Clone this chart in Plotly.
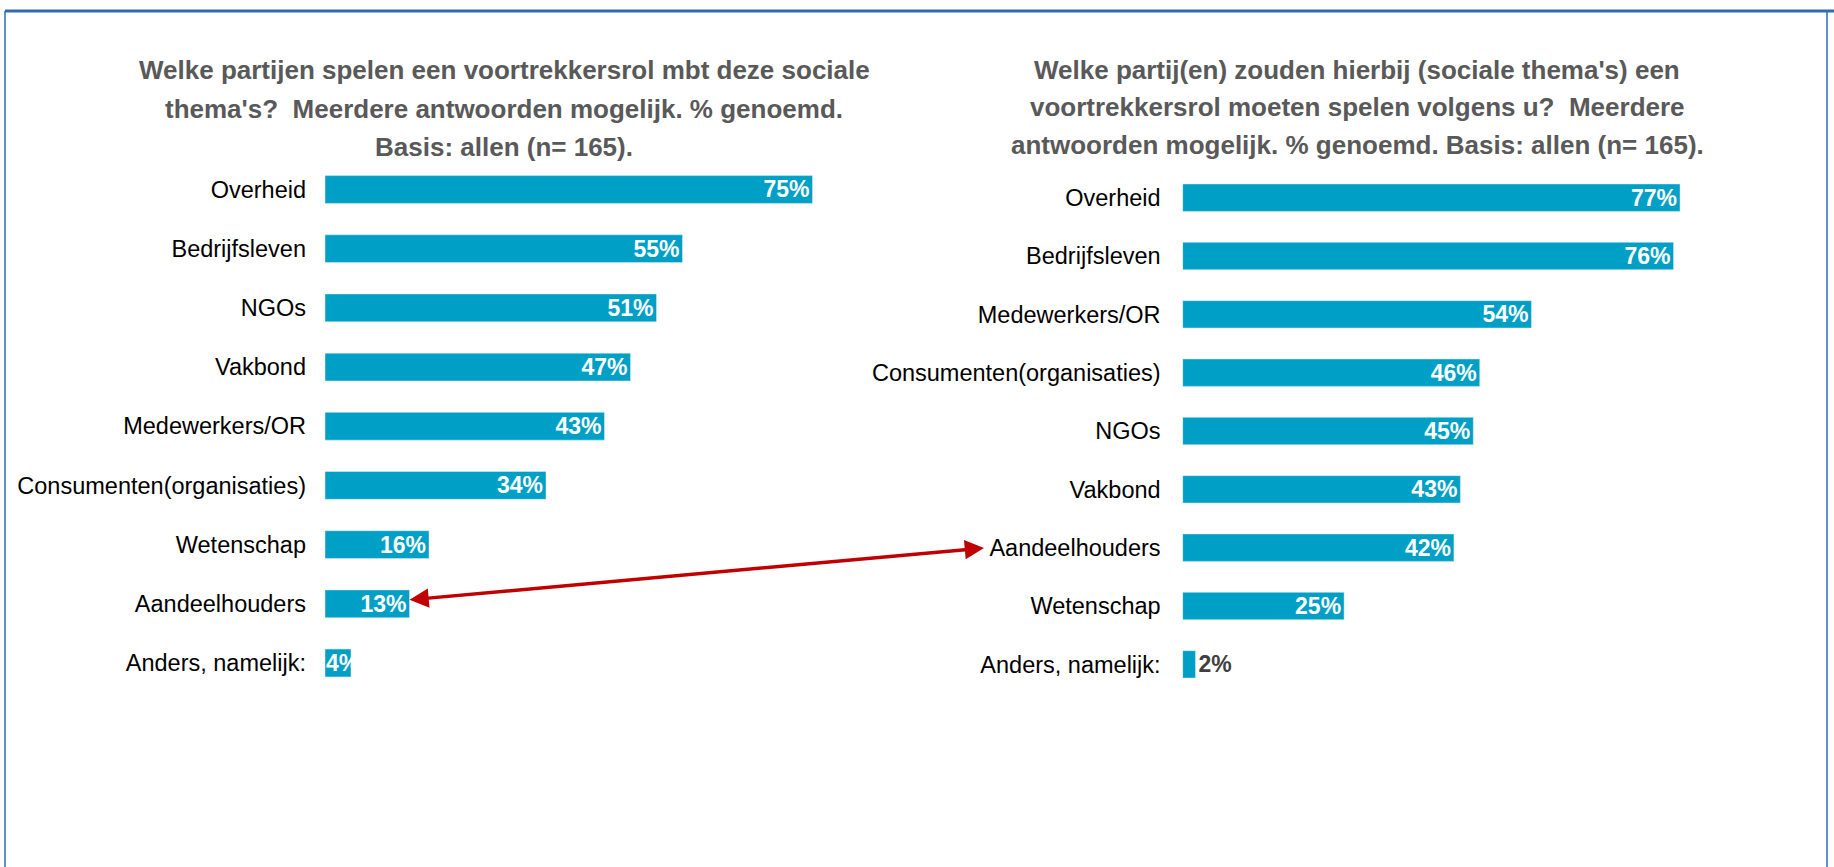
import plotly.graph_objects as go

# ---- data ----
left_categories = ["Overheid", "Bedrijfsleven", "NGOs", "Vakbond", "Medewerkers/OR",
                   "Consumenten(organisaties)", "Wetenschap", "Aandeelhouders", "Anders, namelijk:"]
left_values = [75, 55, 51, 47, 43, 34, 16, 13, 4]

right_categories = ["Overheid", "Bedrijfsleven", "Medewerkers/OR", "Consumenten(organisaties)",
                    "NGOs", "Vakbond", "Aandeelhouders", "Wetenschap", "Anders, namelijk:"]
right_values = [77, 76, 54, 46, 45, 43, 42, 25, 2]

left_title = ["Welke partijen spelen een voortrekkersrol mbt deze sociale",
              "thema's?  Meerdere antwoorden mogelijk. % genoemd.",
              "Basis: allen (n= 165)."]
right_title = ["Welke partij(en) zouden hierbij (sociale thema's) een",
               "voortrekkersrol moeten spelen volgens u?  Meerdere",
               "antwoorden mogelijk. % genoemd. Basis: allen (n= 165)."]

W, H = 1834, 867
BAR = "#00A0C6"
FONT = "Liberation Sans, Arial, sans-serif"
SMALL = 5  # values below this get their label handled separately

def px(x):
    return x / W

def py(y):
    return 1 - y / H

fig = go.Figure()

fig.add_trace(go.Bar(
    x=left_values, y=left_categories, orientation="h", marker_color=BAR, width=0.47,
    text=[f"{v}%" if v >= SMALL else "" for v in left_values], textposition="inside",
    insidetextanchor="end", constraintext="none", textangle=0,
    textfont=dict(family=FONT, size=23, color="white", weight="bold"),
    xaxis="x", yaxis="y", showlegend=False, cliponaxis=False, hoverinfo="skip",
))
fig.add_trace(go.Bar(
    x=right_values, y=right_categories, orientation="h", marker_color=BAR, width=0.47,
    text=[f"{v}%" for v in right_values],
    textposition=["outside" if v < SMALL else "inside" for v in right_values],
    insidetextanchor="end", constraintext="none", textangle=0,
    textfont=dict(family=FONT, size=23, weight="bold",
                  color=["#404040" if v < SMALL else "white" for v in right_values]),
    xaxis="x2", yaxis="y2", showlegend=False, cliponaxis=False, hoverinfo="skip",
))

lx0 = 325
lx1 = lx0 + 80 * 6.5
rx0 = 1182.6
rx1 = rx0 + 80 * 6.46

fig.update_layout(
    width=W, height=H,
    margin=dict(l=0, r=0, t=0, b=0),
    paper_bgcolor="white", plot_bgcolor="white",
    font=dict(family=FONT, color="black"),
    xaxis=dict(domain=[px(lx0), px(lx1)], range=[0, 80], visible=False, fixedrange=True),
    yaxis=dict(domain=[py(692.6), py(159.9)], anchor="x", autorange="reversed",
               showgrid=False, showline=False, ticks="", ticklabelstandoff=18, fixedrange=True,
               tickfont=dict(family=FONT, size=23.5, color="black")),
    xaxis2=dict(domain=[px(rx0), px(rx1)], range=[0, 80], visible=False, fixedrange=True),
    yaxis2=dict(domain=[py(693.5), py(168.5)], anchor="x2", autorange="reversed",
                showgrid=False, showline=False, ticks="", ticklabelstandoff=21, fixedrange=True,
                tickfont=dict(family=FONT, size=23.5, color="black")),
)

annotations = []
for i, line in enumerate(left_title):
    annotations.append(dict(xref="paper", yref="paper", x=px(504), y=py(70 + i * 38.5),
                            text=f"<b>{line}</b>", showarrow=False, xanchor="center", yanchor="middle",
                            font=dict(family=FONT, size=26, color="#595959")))
for i, line in enumerate(right_title):
    annotations.append(dict(xref="paper", yref="paper", x=px(1357), y=py(70 + i * 37.5),
                            text=f"<b>{line}</b>", showarrow=False, xanchor="center", yanchor="middle",
                            font=dict(family=FONT, size=26, color="#595959")))

# labels of tiny left bars: start at the bar base, overflowing (white on white beyond the bar)
for cat, v in zip(left_categories, left_values):
    if v < SMALL:
        annotations.append(dict(xref="x", yref="y", x=0, y=cat, text=f"<b>{v}%</b>",
                                showarrow=False, xanchor="left", yanchor="middle", xshift=-1,
                                font=dict(family=FONT, size=23, color="white")))

# double-headed red arrow between "Aandeelhouders" (left 13%) and the right-hand label
annotations.append(dict(
    xref="x", yref="y", x=left_values[left_categories.index("Aandeelhouders")], y="Aandeelhouders",
    axref="pixel", ayref="pixel", ax=576, ay=-52, yshift=4,
    text="", showarrow=True, arrowhead=2, startarrowhead=2, arrowside="end+start",
    arrowsize=1.1, startarrowsize=1.1, arrowwidth=3.5, arrowcolor="#C00000", standoff=0, startstandoff=0,
))
fig.update_layout(annotations=annotations)

# frame
shapes = [
    dict(type="line", xref="paper", yref="paper", x0=px(5), x1=px(1834), y0=py(11), y1=py(11),
         line=dict(color="#2E6BB5", width=3)),
    dict(type="line", xref="paper", yref="paper", x0=px(5), x1=px(5), y0=py(11), y1=0,
         line=dict(color="#2E6BB5", width=1.5)),
    dict(type="line", xref="paper", yref="paper", x0=px(1827), x1=px(1827), y0=py(11), y1=0,
         line=dict(color="#2E6BB5", width=1.5)),
]
fig.update_layout(shapes=shapes)

fig.write_html("out.html", config={"displayModeBar": False},
               post_script="document.body.style.margin='0px';document.body.style.overflow='hidden';")
